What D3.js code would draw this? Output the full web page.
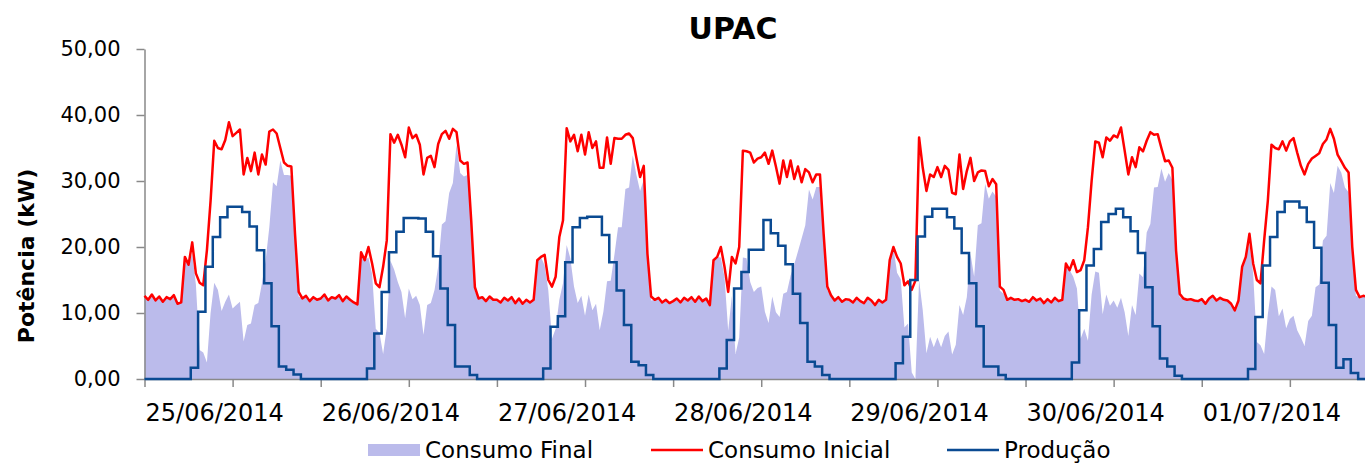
<!DOCTYPE html>
<html>
<head>
<meta charset="utf-8">
<title>UPAC</title>
<style>
    body { margin: 0; background: #fff; }
    svg { font-family: "DejaVu Sans", Verdana, sans-serif; }
    .axis path, .axis line { stroke: #898989; stroke-width: 1.5; }
    .axis text { fill: #000; }
</style>
</head>
<body>
<svg width="1365" height="465"></svg>

<script src="https://d3js.org/d3.v7.min.js"></script>
<script>
    // dias (rótulos do eixo X)
    var dias = ["25/06/2014", "26/06/2014", "27/06/2014", "28/06/2014", "29/06/2014", "30/06/2014", "01/07/2014"];
    var series = ["Consumo Final", "Consumo Inicial", "Produção"];
    var yTicks = [0, 10, 20, 30, 40, 50];

    // Consumo Inicial (kW), de meia em meia hora, 48 valores por dia
    var consumoInicial = [
        12.6,12.0,12.8,11.9,12.5,11.7,12.4,12.1,12.7,11.4,11.6,18.5,17.3,20.7,16.0,14.6,14.2,19.5,27.0,36.1,35.0,34.8,36.2,38.9,
        36.8,37.3,37.8,31.0,33.5,31.5,34.3,31.0,34.0,32.5,37.5,37.8,37.2,35.0,32.8,32.3,32.2,22.0,13.2,12.2,12.6,11.8,12.4,12.0,
        12.2,12.8,11.9,12.4,12.2,12.7,11.8,12.5,12.0,11.6,11.3,19.2,18.0,20.0,17.5,14.5,13.9,17.0,21.0,37.1,35.8,37.0,35.5,33.6,
        38.1,36.5,37.0,35.5,31.0,33.5,33.8,32.1,35.6,37.1,37.6,36.4,37.9,37.4,33.1,32.6,32.8,24.0,13.9,12.2,12.4,11.8,12.5,12.0,
        12.0,11.6,12.3,11.9,12.4,11.5,12.2,11.4,12.0,11.6,12.0,18.0,18.5,18.8,15.0,14.0,15.5,21.5,24.0,38.0,36.0,37.0,34.5,37.0,
        34.0,37.4,35.0,36.0,32.0,32.0,36.6,32.6,36.5,36.4,36.4,37.0,37.2,36.5,33.5,30.6,32.3,19.0,12.5,12.0,12.3,11.6,12.0,11.5,
        11.8,12.2,11.6,12.3,11.9,12.4,11.7,12.5,11.8,12.2,11.2,18.0,18.5,20.0,17.0,13.2,18.5,17.5,20.0,34.6,34.5,34.3,32.8,33.4,
        33.6,34.3,32.6,34.6,32.2,29.6,33.1,30.6,33.1,30.3,32.2,29.8,31.8,31.3,29.8,31.0,31.0,22.0,14.0,12.7,11.9,12.4,11.7,12.1,
        12.0,11.6,12.3,11.8,11.5,12.3,11.9,11.2,12.0,11.6,12.0,18.0,20.0,18.5,17.5,14.2,14.8,13.5,14.9,36.6,32.0,28.5,31.0,30.6,
        32.1,30.6,32.3,31.7,28.2,28.0,34.0,28.8,31.5,33.5,30.0,31.3,31.6,31.5,29.2,30.3,29.5,14.0,13.5,12.0,12.3,12.0,12.1,11.8,
        12.0,11.7,12.4,11.9,12.2,11.5,12.1,11.6,12.3,11.8,12.0,17.5,16.5,18.0,16.2,16.5,18.0,23.0,30.0,36.0,35.8,33.6,36.6,36.1,
        36.9,36.6,38.1,34.6,31.0,33.6,32.1,35.1,34.5,36.1,37.4,37.0,37.1,35.0,33.0,33.1,32.0,19.5,12.9,12.2,12.0,12.1,11.9,11.8,
        12.1,11.4,12.2,12.6,11.9,12.3,12.0,11.9,11.4,10.4,11.9,17.0,18.5,22.0,17.5,15.0,14.5,21.0,27.0,35.5,35.0,34.8,36.0,34.6,
        36.0,36.5,34.3,32.3,31.0,32.6,33.4,33.8,34.2,35.6,36.3,37.9,36.4,34.0,33.0,32.0,31.3,20.0,13.5,12.4,12.6,12.5,12.4,12.6
    ];

    // Produção (kW), valores horários, 24 por dia
    var producao = [
        0,0,0,0,0,0,1.7,10.2,17.0,21.5,24.5,26.1,26.1,25.3,23.1,19.5,14.5,8.0,1.9,1.4,0.7,0,0,0,
        0,0,0,0,0,0,1.6,6.9,13.2,19.2,22.3,24.4,24.4,24.3,22.3,18.6,13.7,8.2,1.9,1.9,0.6,0,0,0,
        0,0,0,0,0,0,1.6,7.9,9.5,17.7,23.0,24.4,24.6,24.6,21.8,17.7,13.4,8.2,2.6,2.1,0.6,0,0,0,
        0,0,0,0,0,0,1.6,5.9,13.7,16.2,19.6,19.6,24.1,22.1,20.2,17.4,12.9,8.5,2.6,1.9,0.6,0,0,0,
        0,0,0,0,0,0,2.4,6.4,15.0,21.6,24.6,25.8,25.8,24.5,22.8,19.1,14.5,8.0,1.9,1.9,0.6,0,0,0,
        0,0,0,0,0,0,2.5,10.4,17.2,19.7,23.8,25.0,25.8,24.5,22.4,19.1,13.9,8.0,3.1,1.9,0.5,0,0,0,
        0,0,0,0,0,0,1.5,9.4,17.2,21.5,25.3,26.9,26.9,26.0,23.8,19.9,14.6,8.2,1.7,3.0,0.9,0,0,0
    ];

    // Consumo Final (kW), de meia em meia hora
    var consumoFinal = [
        12.6,12.0,12.8,11.9,12.5,11.7,12.4,12.1,12.7,11.4,11.6,18.5,17.3,19.0,14.3,4.4,4.0,2.5,10.0,14.6,13.5,10.3,11.7,12.8,
        10.7,11.2,11.7,5.7,8.2,8.4,11.2,11.5,14.5,18.0,23.0,29.8,29.2,33.1,30.9,30.9,30.8,21.3,12.5,12.2,12.6,11.8,12.4,12.0,
        12.2,12.8,11.9,12.4,12.2,12.7,11.8,12.5,12.0,11.6,11.3,19.2,18.0,18.4,15.9,7.6,7.0,3.8,7.8,17.9,16.6,14.7,13.2,9.2,
        13.7,12.1,12.6,11.2,6.7,11.2,11.5,13.5,17.0,23.4,23.9,28.2,29.7,35.5,31.2,30.7,30.9,23.4,13.3,12.2,12.4,11.8,12.5,12.0,
        12.0,11.6,12.3,11.9,12.4,11.5,12.2,11.4,12.0,11.6,12.0,18.0,18.5,17.2,13.4,6.1,7.6,12.0,14.5,20.3,18.3,14.0,11.5,12.6,
        9.6,12.8,10.4,11.4,7.4,10.2,14.8,14.9,18.8,23.0,23.0,28.8,29.0,33.9,30.9,28.5,30.2,18.4,11.9,12.0,12.3,11.6,12.0,11.5,
        11.8,12.2,11.6,12.3,11.9,12.4,11.7,12.5,11.8,12.2,11.2,18.0,18.5,18.4,15.4,7.3,12.6,3.8,6.3,18.4,18.3,14.7,13.2,13.8,
        14.0,10.2,8.5,12.5,10.1,9.4,12.9,13.2,15.7,17.4,19.3,21.3,23.3,28.7,27.2,29.1,29.1,21.4,13.4,12.7,11.9,12.4,11.7,12.1,
        12.0,11.6,12.3,11.8,11.5,12.3,11.9,11.2,12.0,11.6,12.0,18.0,20.0,16.1,15.1,7.8,8.4,1.0,0.0,15.0,10.4,3.9,6.4,4.8,
        6.3,4.8,6.5,7.2,3.7,5.2,11.2,9.7,12.4,19.0,15.5,23.3,23.6,29.6,27.3,28.4,27.6,13.4,12.9,12.0,12.3,12.0,12.1,11.8,
        12.0,11.7,12.4,11.9,12.2,11.5,12.1,11.6,12.3,11.8,12.0,17.5,16.5,15.5,13.7,6.1,7.6,5.8,12.8,16.3,16.1,9.8,12.8,11.1,
        11.9,10.8,12.3,10.1,6.5,11.2,9.7,16.0,15.4,22.2,23.5,29.0,29.1,31.9,29.9,31.2,30.1,19.0,12.4,12.2,12.0,12.1,11.9,11.8,
        12.1,11.4,12.2,12.6,11.9,12.3,12.0,11.9,11.4,10.4,11.9,17.0,18.5,20.5,16.0,5.6,5.1,3.8,9.8,14.0,13.5,9.5,10.7,7.7,
        9.1,9.6,7.4,6.3,5.0,8.8,9.6,13.9,14.3,21.0,21.7,29.7,28.2,32.3,31.3,29.0,28.3,19.1,12.6,12.4,12.6,12.5,12.4,12.6
    ];

    var cores = { final: "#bbbbeb", inicial: "#ff0000", producao: "#0a4a92" };

    var svg = d3.select("svg"),
        width = +svg.attr("width"),
        height = +svg.attr("height");

    var x0 = 144.5, horaPx = 7.342;   // largura de uma hora no eixo
    var x = d3.scaleLinear().domain([0, 168]).range([x0, x0 + 168 * horaPx]);
    var y = d3.scaleLinear().domain([0, 50]).range([379, 49]);
    var fmt = d3.formatLocale({decimal: ",", thousands: ".", grouping: [3], currency: ["", " €"]}).format(".2f");

    // a produção muda de patamar um pouco depois da hora cheia
    var desvioProd = 0.3;

    // area do consumo final
    var area = d3.area()
        .x(function(d, i) { return x(i * 0.5); })
        .y0(y(0))
        .y1(function(d) { return y(d); });
    svg.append("path")
        .datum(consumoFinal)
        .attr("fill", cores.final)
        .attr("d", area);

    // eixos
    var yAxis = svg.append("g")
        .attr("class", "axis")
        .attr("transform", "translate(" + x0 + ",0)")
        .call(d3.axisLeft(y).tickValues(yTicks).tickSize(8).tickSizeOuter(0).tickPadding(16).tickFormat(fmt));
    yAxis.selectAll("text").attr("font-size", 21).attr("font-family", "DejaVu Sans");

    svg.append("g")
        .attr("class", "axis")
        .attr("transform", "translate(0," + y(0) + ")")
        .call(d3.axisBottom(x).tickValues(d3.range(0, 169, 12)).tickSize(8).tickSizeOuter(0).tickFormat(""));

    svg.append("g").selectAll("text")
        .data(dias)
        .enter().append("text")
        .attr("x", function(d, i) { return x(i * 24) + 1; })
        .attr("y", 421)
        .attr("font-size", 24)
        .text(function(d) { return d; });

    // consumo inicial
    var linhaInicial = d3.line()
        .x(function(d, i) { return x(i * 0.5); })
        .y(function(d) { return y(d); });
    svg.append("path")
        .datum(consumoInicial)
        .attr("fill", "none")
        .attr("stroke", cores.inicial)
        .attr("stroke-width", 2.5)
        .attr("stroke-linejoin", "round")
        .attr("d", linhaInicial);

    // produção (degraus horários)
    var linhaProd = d3.line()
        .curve(d3.curveStepAfter)
        .x(function(d, i) { return x(i === 0 ? 0 : i + desvioProd); })
        .y(function(d) { return y(d); });
    svg.append("path")
        .datum(producao)
        .attr("fill", "none")
        .attr("stroke", cores.producao)
        .attr("stroke-width", 2.5)
        .attr("d", linhaProd);

    // titulos
    svg.append("text")
        .attr("x", 733)
        .attr("y", 39)
        .attr("text-anchor", "middle")
        .attr("font-size", 30)
        .attr("font-weight", "bold")
        .text("UPAC");

    svg.append("text")
        .attr("transform", "translate(34,256) rotate(-90)")
        .attr("text-anchor", "middle")
        .attr("font-size", 22)
        .attr("font-weight", "bold")
        .text("Potência (kW)");

    // legenda
    var legenda = [
        {nome: series[0], cor: cores.final, tipo: "area", x: 368},
        {nome: series[1], cor: cores.inicial, tipo: "linha", x: 651},
        {nome: series[2], cor: cores.producao, tipo: "linha", x: 947}
    ];
    var leg = svg.append("g").selectAll("g")
        .data(legenda)
        .enter().append("g")
        .attr("transform", function(d) { return "translate(" + d.x + ",450)"; });
    leg.filter(function(d) { return d.tipo === "area"; })
        .append("rect")
        .attr("x", 0).attr("y", -6)
        .attr("width", 52).attr("height", 12)
        .attr("fill", function(d) { return d.cor; });
    leg.filter(function(d) { return d.tipo === "linha"; })
        .append("line")
        .attr("x1", 0).attr("x2", 52)
        .attr("stroke", function(d) { return d.cor; })
        .attr("stroke-width", 2.5);
    leg.append("text")
        .attr("x", 57)
        .attr("y", 8)
        .attr("font-size", 23)
        .text(function(d) { return d.nome; });
</script>
</body>
</html>
